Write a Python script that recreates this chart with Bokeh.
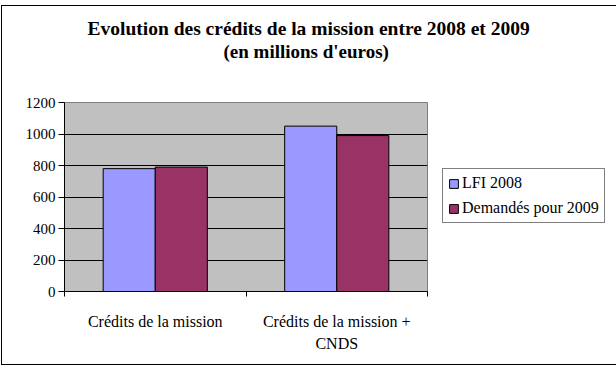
from bokeh.plotting import figure
from bokeh.models import ColumnDataSource, FixedTicker, Legend, LegendItem, Range1d, Title
from bokeh.embed import file_html
from bokeh.resources import INLINE

categories = ["Crédits de la mission", "Crédits de la mission +\nCNDS"]
series_names = ["LFI 2008", "Demandés pour 2009"]
lfi_2008 = [780, 1050]
demandes_2009 = [790, 990]
y_ticks = [0, 200, 400, 600, 800, 1000, 1200]
title_lines = ["Evolution des crédits de la mission entre 2008 et 2009", "(en millions d'euros)"]

colors = ["#9999FF", "#993366"]
FONT = "Liberation Serif"

centers = [i + 0.5 for i in range(len(categories))]
bar_w = 0.287
src = ColumnDataSource(dict(
    x1=[c - bar_w / 2 for c in centers],
    x2=[c + bar_w / 2 for c in centers],
    a=lfi_2008, b=demandes_2009,
))

p = figure(frame_width=363, frame_height=189, output_backend="svg", toolbar_location=None,
           x_range=Range1d(0, len(categories)), y_range=Range1d(0, 1200),
           min_border_left=62, min_border_right=184, min_border_top=96, min_border_bottom=73)
p.styles = {"margin-left": "2px", "margin-top": "6px", "outline": "1px solid black"}

p.background_fill_color = "#C0C0C0"
p.border_fill_color = "white"
p.outline_line_color = "#808080"

r1 = p.vbar(x="x1", top="a", width=bar_w, source=src, fill_color=colors[0], line_color="black", line_width=1)
r2 = p.vbar(x="x2", top="b", width=bar_w, source=src, fill_color=colors[1], line_color="black", line_width=1)

# axes
p.yaxis.ticker = FixedTicker(ticks=y_ticks)
p.yaxis.axis_line_color = "black"
p.yaxis.major_tick_line_color = "black"
p.yaxis.major_tick_in = 0
p.yaxis.major_tick_out = 6
p.yaxis.minor_tick_line_color = None
p.yaxis.major_label_text_font = FONT
p.yaxis.major_label_text_font_size = "15px"
p.yaxis.major_label_text_color = "black"
p.yaxis.major_label_standoff = 3

p.xaxis.ticker = FixedTicker(ticks=centers, minor_ticks=list(range(len(categories) + 1)))
p.xaxis.major_label_overrides = {c: lab for c, lab in zip(centers, categories)}
p.xaxis.axis_line_color = "black"
p.xaxis.major_tick_line_color = None
p.xaxis.major_tick_in = 0
p.xaxis.major_tick_out = 0
p.xaxis.minor_tick_line_color = "black"
p.xaxis.minor_tick_in = 0
p.xaxis.minor_tick_out = 5
p.xaxis.major_label_text_font = FONT
p.xaxis.major_label_text_font_size = "16px"
p.xaxis.major_label_text_color = "black"
p.xaxis.major_label_text_line_height = 1.3
p.xaxis.major_label_standoff = 16

p.xgrid.grid_line_color = None
p.ygrid.ticker = FixedTicker(ticks=y_ticks)
p.ygrid.grid_line_color = "black"
p.ygrid.grid_line_width = 1

# two-line title: spacer nearest the frame, then line 2, then line 1
p.add_layout(Title(text=" ", text_font_size="1px", standoff=38), "above")
p.add_layout(Title(text=title_lines[1], align="left", offset=159, vertical_align="bottom",
                   standoff=0, text_font=FONT, text_font_size="19px",
                   text_font_style="bold", text_color="black"), "above")
p.add_layout(Title(text=title_lines[0], align="left", offset=23, vertical_align="bottom",
                   standoff=0, text_font=FONT, text_font_size="19.5px",
                   text_font_style="bold", text_color="black"), "above")

legend = Legend(items=[LegendItem(label=series_names[0], renderers=[r1]),
                       LegendItem(label=series_names[1], renderers=[r2])],
                location=(15, 68))
legend.border_line_color = "black"
legend.border_line_width = 1
legend.background_fill_color = "white"
legend.background_fill_alpha = 1
legend.label_text_font = FONT
legend.label_text_font_size = "16px"
legend.label_text_color = "black"
legend.glyph_width = 11
legend.glyph_height = 11
legend.label_height = 18
legend.label_standoff = 3
legend.spacing = 7
legend.padding = 5
legend.margin = 0
p.add_layout(legend, "right")

open("out.html", "w").write(file_html(p, INLINE))
